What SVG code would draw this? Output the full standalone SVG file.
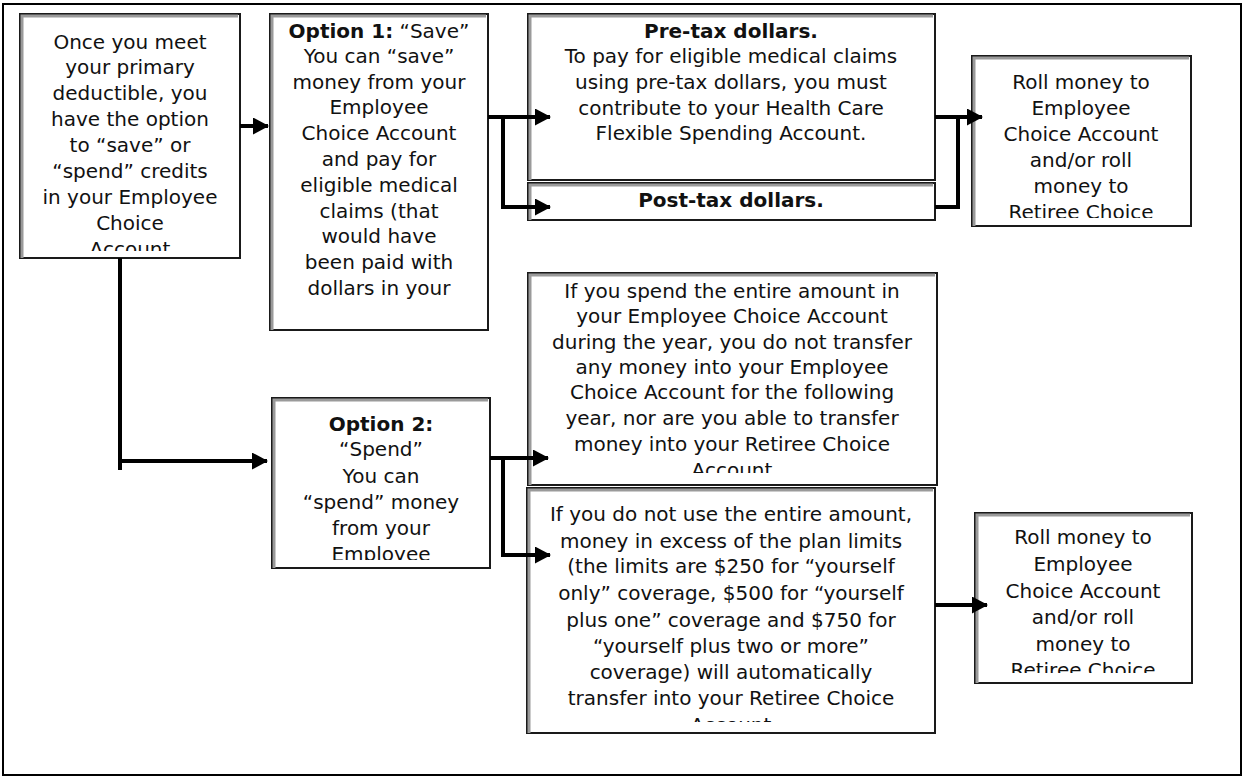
<svg xmlns="http://www.w3.org/2000/svg" width="1245" height="778" viewBox="0 0 1245 778">
<style>
  .box { fill: #ffffff; stroke: #1a1a1a; stroke-width: 2; }
  .shade { fill: none; stroke: #9a9a9a; stroke-width: 3; }
  .t { font-family: "DejaVu Sans", "Liberation Sans", sans-serif; font-size: 20px; fill: #111; text-anchor: middle; }
  .b { font-weight: bold; }
  .conn { fill: none; stroke: #000; stroke-width: 4; }
</style>
<defs>
  <marker id="ah" markerUnits="userSpaceOnUse" markerWidth="16" markerHeight="17" refX="15" refY="8.5" orient="auto">
    <path d="M0,0 L16,8.5 L0,17 z" fill="#000"/>
  </marker>
  <clipPath id="c1"><rect x="20" y="14" width="220" height="237"/></clipPath>
  <clipPath id="c2"><rect x="270" y="14" width="218" height="308"/></clipPath>
  <clipPath id="c3"><rect x="528" y="14" width="407" height="160"/></clipPath>
  <clipPath id="c4"><rect x="528" y="183" width="407" height="34"/></clipPath>
  <clipPath id="c5"><rect x="972" y="56" width="219" height="162"/></clipPath>
  <clipPath id="c6"><rect x="272" y="398" width="218" height="162"/></clipPath>
  <clipPath id="c7"><rect x="528" y="273" width="409" height="200"/></clipPath>
  <clipPath id="c8"><rect x="527" y="488" width="408" height="234"/></clipPath>
  <clipPath id="c9"><rect x="975" y="513" width="217" height="160"/></clipPath>
</defs>

<rect x="3" y="4" width="1238" height="771" fill="#fff" stroke="#000" stroke-width="2"/>

<g id="node-start">
  <rect class="box" x="20" y="14" width="220" height="244"/>
  <path class="shade" d="M22,258 L22,16 L238,16"/>
  <g clip-path="url(#c1)">
    <text class="t" x="130" y="49">Once you meet</text>
    <text class="t" x="130" y="74">your primary</text>
    <text class="t" x="130" y="100">deductible, you</text>
    <text class="t" x="130" y="126">have the option</text>
    <text class="t" x="130" y="152">to “save” or</text>
    <text class="t" x="130" y="178">“spend” credits</text>
    <text class="t" x="130" y="204">in your Employee</text>
    <text class="t" x="130" y="230">Choice</text>
    <text class="t" x="130" y="256">Account</text>
  </g>
</g>

<g id="node-option1">
  <rect class="box" x="270" y="14" width="218" height="316"/>
  <path class="shade" d="M272,330 L272,16 L486,16"/>
  <g clip-path="url(#c2)">
    <text class="t" x="379" y="38"><tspan class="b">Option 1:</tspan> “Save”</text>
    <text class="t" x="379" y="63">You can “save”</text>
    <text class="t" x="379" y="89">money from your</text>
    <text class="t" x="379" y="114">Employee</text>
    <text class="t" x="379" y="140">Choice Account</text>
    <text class="t" x="379" y="166">and pay for</text>
    <text class="t" x="379" y="192">eligible medical</text>
    <text class="t" x="379" y="218">claims (that</text>
    <text class="t" x="379" y="243">would have</text>
    <text class="t" x="379" y="269">been paid with</text>
    <text class="t" x="379" y="295">dollars in your</text>
  </g>
</g>

<g id="node-pretax">
  <rect class="box" x="528" y="14" width="407" height="166"/>
  <path class="shade" d="M530,180 L530,16 L933,16"/>
  <g clip-path="url(#c3)">
    <text class="t b" x="731" y="38">Pre-tax dollars.</text>
    <text class="t" x="731" y="63">To pay for eligible medical claims</text>
    <text class="t" x="731" y="89">using pre-tax dollars, you must</text>
    <text class="t" x="731" y="115">contribute to your Health Care</text>
    <text class="t" x="731" y="140">Flexible Spending Account.</text>
  </g>
</g>

<g id="node-posttax">
  <rect class="box" x="528" y="183" width="407" height="37"/>
  <path class="shade" d="M530,220 L530,185 L933,185"/>
  <g clip-path="url(#c4)">
    <text class="t b" x="731" y="207">Post-tax dollars.</text>
  </g>
</g>

<g id="node-roll1">
  <rect class="box" x="972" y="56" width="219" height="170"/>
  <path class="shade" d="M974,226 L974,58 L1189,58"/>
  <g clip-path="url(#c5)">
    <text class="t" x="1081" y="89">Roll money to</text>
    <text class="t" x="1081" y="115">Employee</text>
    <text class="t" x="1081" y="141">Choice Account</text>
    <text class="t" x="1081" y="167">and/or roll</text>
    <text class="t" x="1081" y="193">money to</text>
    <text class="t" x="1081" y="219">Retiree Choice</text>
  </g>
</g>

<g id="node-option2">
  <rect class="box" x="272" y="398" width="218" height="170"/>
  <path class="shade" d="M274,568 L274,400 L488,400"/>
  <g clip-path="url(#c6)">
    <text class="t b" x="381" y="431">Option 2:</text>
    <text class="t" x="381" y="456">“Spend”</text>
    <text class="t" x="381" y="483">You can</text>
    <text class="t" x="381" y="509">“spend” money</text>
    <text class="t" x="381" y="535">from your</text>
    <text class="t" x="381" y="561">Employee</text>
  </g>
</g>

<g id="node-spend-all">
  <rect class="box" x="528" y="273" width="409" height="212"/>
  <path class="shade" d="M530,485 L530,275 L935,275"/>
  <g clip-path="url(#c7)">
    <text class="t" x="732" y="298">If you spend the entire amount in</text>
    <text class="t" x="732" y="323">your Employee Choice Account</text>
    <text class="t" x="732" y="349">during the year, you do not transfer</text>
    <text class="t" x="732" y="374">any money into your Employee</text>
    <text class="t" x="732" y="399">Choice Account for the following</text>
    <text class="t" x="732" y="425">year, nor are you able to transfer</text>
    <text class="t" x="732" y="451">money into your Retiree Choice</text>
    <text class="t" x="732" y="477">Account</text>
  </g>
</g>

<g id="node-not-all">
  <rect class="box" x="527" y="488" width="408" height="245"/>
  <path class="shade" d="M529,733 L529,490 L933,490"/>
  <g clip-path="url(#c8)">
    <text class="t" x="731" y="521">If you do not use the entire amount,</text>
    <text class="t" x="731" y="548">money in excess of the plan limits</text>
    <text class="t" x="731" y="573">(the limits are $250 for “yourself</text>
    <text class="t" x="731" y="600">only” coverage, $500 for “yourself</text>
    <text class="t" x="731" y="627">plus one” coverage and $750 for</text>
    <text class="t" x="731" y="653">“yourself plus two or more”</text>
    <text class="t" x="731" y="679">coverage) will automatically</text>
    <text class="t" x="731" y="705">transfer into your Retiree Choice</text>
    <text class="t" x="731" y="732">Account</text>
  </g>
</g>

<g id="node-roll2">
  <rect class="box" x="975" y="513" width="217" height="170"/>
  <path class="shade" d="M977,683 L977,515 L1190,515"/>
  <g clip-path="url(#c9)">
    <text class="t" x="1083" y="544">Roll money to</text>
    <text class="t" x="1083" y="571">Employee</text>
    <text class="t" x="1083" y="598">Choice Account</text>
    <text class="t" x="1083" y="624">and/or roll</text>
    <text class="t" x="1083" y="651">money to</text>
    <text class="t" x="1083" y="677">Retiree Choice</text>
  </g>
</g>

<g id="connectors">
  <path class="conn" d="M240,126 L268,126" marker-end="url(#ah)"/>
  <path class="conn" d="M120,258 L120,470"/>
  <path class="conn" d="M120,461 L267,461" marker-end="url(#ah)"/>
  <path class="conn" d="M488,117 L550,117" marker-end="url(#ah)"/>
  <path class="conn" d="M503,117 L503,209"/>
  <path class="conn" d="M503,207 L550,207" marker-end="url(#ah)"/>
  <path class="conn" d="M935,117 L982,117" marker-end="url(#ah)"/>
  <path class="conn" d="M958,115 L958,209"/>
  <path class="conn" d="M935,207 L958,207"/>
  <path class="conn" d="M490,458 L548,458" marker-end="url(#ah)"/>
  <path class="conn" d="M503,458 L503,557"/>
  <path class="conn" d="M503,555 L550,555" marker-end="url(#ah)"/>
  <path class="conn" d="M935,605 L987,605" marker-end="url(#ah)"/>
</g>
</svg>
